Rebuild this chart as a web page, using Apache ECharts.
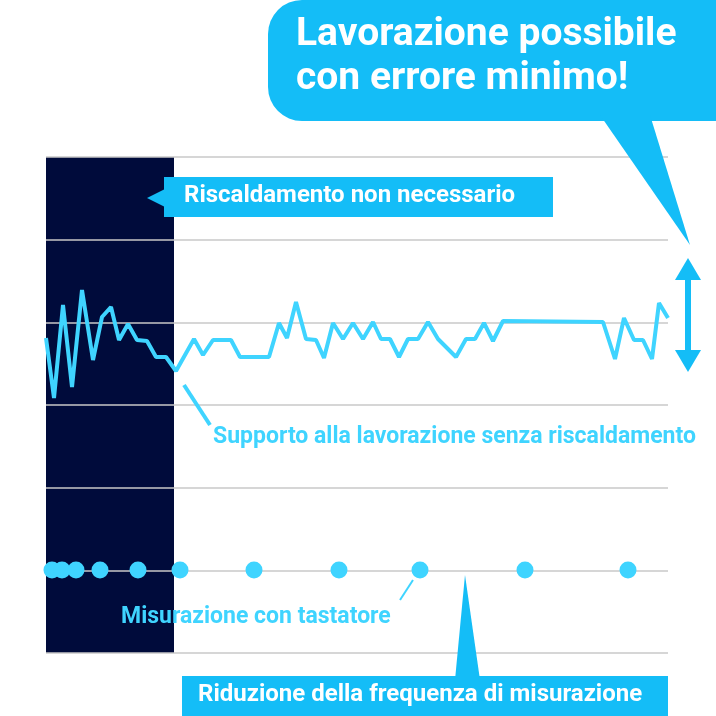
<!DOCTYPE html><html><head><meta charset="utf-8"><script src="https://cdn.jsdelivr.net/npm/echarts@6/dist/echarts.min.js"></script>
<style>body{margin:0}#c{width:716px;height:716px}</style></head><body><div id="c"></div><script>
// x = horizontal position along the time axis (0..622), y = deviation level (0..496)
const lineX=[0,8,17,26,36,47,56,65,73,82,91,101,110,120,130,148,157,167,185,194,223,233,241,250,260,270,278,287,297,307,317,327,335,344,353,362,372,382,392,410,420,429,438,447,457,557,569,578,588,597,606,613,622];
const lineY=[315,255,348,266,363,293,336,346,313,329,313,312,296,296,282,314,298,313,313,296,296,330,315,351,314,313,295,330,314,330,314,331,314,314,296,314,314,331,314,296,314,314,330,312,332,331,294,335,313,313,294,350,335];
const dotX=[6,16,30,54,92,134,208,293,374,479,582];
const dotY=[83,83,83,83,83,83,83,83,83,83,83];
const C='#3fd4ff',B='#14bdf7',F='"Liberation Sans Narrow","Roboto",sans-serif';
const ch=echarts.init(document.getElementById('c'));
const T=(x,y,t,fs,col,ext)=>Object.assign({type:'text',left:x,top:y,z:20,style:{text:t,fill:col||'#fff',font:'bold '+fs+'px '+F}},ext||{});
ch.setOption({animation:false,
grid:{left:46,right:48,top:157,bottom:63},
xAxis:{type:'value',min:0,max:622,show:false},
yAxis:{type:'value',min:0,max:496,interval:496/6,axisLabel:{show:false},axisLine:{show:false},axisTick:{show:false},splitLine:{lineStyle:{color:'#c8c8c8',width:1.5}}},
series:[
{type:'line',data:lineX.map((x,i)=>[x,lineY[i]]),symbol:'none',lineStyle:{color:C,width:4},z:5},
{type:'scatter',data:dotX.map((x,i)=>[x,dotY[i]]),symbolSize:17,itemStyle:{color:C,opacity:1},z:5}],
graphic:[
{type:'rect',shape:{x:46,y:157,width:128,height:496},style:{fill:'#000b3b'},z:-1,silent:true},
{type:'rect',shape:{x:268,y:0,width:480,height:121,r:34},style:{fill:B},z:10},
{type:'polygon',shape:{points:[[600,115],[650,115],[690,245]]},style:{fill:B},z:10},
T(296,16,'Lavorazione possibile',39),T(296,60,'con errore minimo!',39),
{type:'rect',shape:{x:164,y:177,width:389,height:40},style:{fill:B},z:10},
{type:'polygon',shape:{points:[[147,198],[165,189],[165,207]]},style:{fill:B},z:10},
T(184,184,'Riscaldamento non necessario',24),
{type:'line',shape:{x1:184,y1:385,x2:210,y2:425},style:{stroke:C,lineWidth:4},z:10},
T(213,426,'Supporto alla lavorazione senza riscaldamento',23,C),
{type:'line',shape:{x1:400,y1:600,x2:413,y2:580},style:{stroke:C,lineWidth:2},z:10},
T(121,606,'Misurazione con tastatore',23,C),
{type:'polygon',shape:{points:[[465,575],[455,680],[480,680]]},style:{fill:B},z:10},
{type:'rect',shape:{x:182,y:676,width:486,height:40},style:{fill:B},z:10},
T(198,683,'Riduzione della frequenza di misurazione',24),
{type:'line',shape:{x1:688,y1:275,x2:688,y2:355},style:{stroke:B,lineWidth:6},z:10},
{type:'polygon',shape:{points:[[688,258],[675,280],[701,280]]},style:{fill:B},z:10},
{type:'polygon',shape:{points:[[688,372],[675,350],[701,350]]},style:{fill:B},z:10}
]});
</script></body></html>
